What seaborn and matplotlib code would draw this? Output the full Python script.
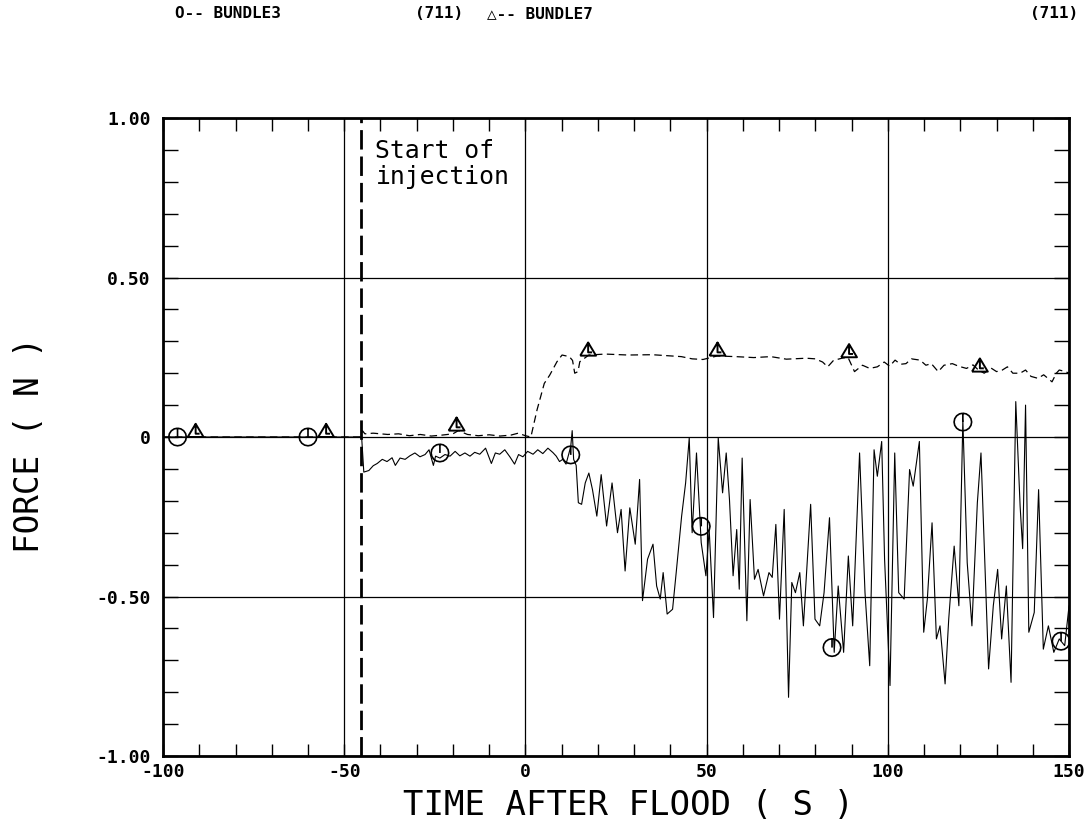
import matplotlib
matplotlib.use("Agg")
import matplotlib.pyplot as plt
from matplotlib.path import Path
from matplotlib.ticker import MultipleLocator, FixedLocator, FixedFormatter
import numpy as np
import pandas as pd
import seaborn as sns

# ---- BUNDLE3 force trace (solid) ----
b3_time = [-100, -45.6, -45.2, -44.6, -43.2, -42.0, -40.9, -39.5, -38.2, -36.8, -35.9,
           -34.6, -33.2, -31.9, -30.5, -29.1, -27.7, -26.6, -25.4, -24.8, -23.6, -22.2,
           -20.8, -19.4, -18.1, -16.7, -15.3, -14.0, -12.6, -11.0, -9.4, -8.3, -7.1,
           -5.7, -4.3, -3.0, -1.9, -0.7, 0.6, 2.1, 3.4, 4.8, 6.2, 7.6, 8.5, 9.4, 10.3,
           11.2, 12.5, 12.9, 13.3, 14.0,
           14.6, 15.5, 16.5, 17.5, 18.5, 19.7, 20.9, 22.4, 23.9, 25.4, 26.4, 27.5, 28.8,
           30.3, 31.5, 32.3, 33.7, 35.2, 36.2, 37.2, 38.0, 39.1, 40.6, 41.6, 43.1, 44.2,
           45.2, 46.0, 47.2, 48.5, 49.8, 50.7, 51.9, 53.2, 54.4, 55.4, 56.3, 57.3, 58.3,
           59.0, 59.8, 61.1, 62.0, 63.2, 64.2, 65.7, 67.2, 68.1, 69.1, 70.1, 71.4, 72.6,
           73.5, 74.5, 75.7, 76.7, 78.7, 79.9, 81.2, 82.4, 83.9, 85.2, 86.3, 87.8, 89.1,
           90.3, 92.2, 93.7, 95.0, 96.2, 97.1, 98.3, 99.1, 100.6, 101.9, 103.0, 104.5,
           106.0, 107.0, 108.7, 109.9, 110.9, 112.2, 113.4, 114.4, 115.8, 116.8, 118.3,
           119.6, 120.7, 121.9, 123.2, 124.7, 125.7, 126.6, 127.8, 129.1, 130.3, 131.4,
           132.7, 134.0, 135.3, 136.5, 137.2, 138.0, 138.9, 140.4, 141.6, 142.9, 144.3,
           145.8, 147.3, 148.8, 150.0]
b3_force = [0.0, 0.0, 0.0, -0.110, -0.105, -0.090, -0.083, -0.070, -0.077, -0.065, -0.089,
            -0.066, -0.070, -0.059, -0.050, -0.062, -0.055, -0.040, -0.089, -0.060, -0.066,
            -0.055, -0.060, -0.045, -0.059, -0.050, -0.060, -0.048, -0.054, -0.035, -0.083,
            -0.050, -0.054, -0.040, -0.062, -0.085, -0.055, -0.062, -0.045, -0.054, -0.040,
            -0.052, -0.035, -0.049, -0.060, -0.077, -0.070, -0.085, -0.030, 0.020, -0.070,
            -0.089,
            -0.206, -0.211, -0.144, -0.113, -0.165, -0.248, -0.118, -0.279, -0.144, -0.300,
            -0.227, -0.420, -0.222, -0.336, -0.133, -0.513, -0.383, -0.336, -0.467, -0.508,
            -0.425, -0.555, -0.540, -0.425, -0.248, -0.144, -0.003, -0.300, -0.050, -0.331,
            -0.435, -0.290, -0.566, -0.003, -0.175, -0.050, -0.196, -0.435, -0.290, -0.477,
            -0.066, -0.576, -0.196, -0.446, -0.415, -0.498, -0.425, -0.440, -0.274, -0.571,
            -0.227, -0.816, -0.456, -0.488, -0.425, -0.592, -0.211, -0.571, -0.592, -0.488,
            -0.253, -0.675, -0.467, -0.675, -0.373, -0.592, -0.050, -0.488, -0.717, -0.040,
            -0.123, -0.014, -0.383, -0.779, -0.050, -0.488, -0.508, -0.102, -0.154, -0.014,
            -0.612, -0.508, -0.269, -0.633, -0.592, -0.774, -0.571, -0.342, -0.529, 0.053,
            -0.394, -0.592, -0.206, -0.050, -0.342, -0.727, -0.529, -0.415, -0.633, -0.467,
            -0.769, 0.111, -0.217, -0.350, 0.100, -0.612, -0.550, -0.165, -0.665, -0.592,
            -0.675, -0.633, -0.654, -0.529]

# ---- BUNDLE7 force trace (dashed) ----
b7_time = [-100, -45.6, -45.0, -44.3, -42, -38, -35, -32, -29, -26, -23, -20, -18.5, -16,
           -13, -10, -7, -4, -2, 0, 1.5, 3.2, 5.2, 6.7, 8.7, 10.1, 12.1, 13.0, 13.6, 14.5,
           15.0, 17.5, 22, 28.3, 35, 43, 46, 49, 52.9, 58, 63, 67.7, 72, 77.5, 80, 82,
           83.4, 85, 87.3, 89, 90.8, 93, 95, 97.1, 99, 100.5, 102, 103.5, 105, 106.5,
           108.9, 110.5, 112, 113.9, 115.5, 117.8, 119.5, 121.7, 123.5, 125, 126.6, 128.5,
           130, 131.6, 133, 134.5, 136.5, 138, 139.5, 141.4, 143, 145.3, 146.5, 147.3,
           149, 150]
b7_force = [0.0, 0.0, 0.020, 0.010, 0.012, 0.008, 0.010, 0.004, 0.008, 0.003, 0.006, 0.010,
            0.020, 0.008, 0.004, 0.007, 0.003, 0.006, 0.012, 0.004, 0.0, 0.085, 0.168, 0.194,
            0.236, 0.257, 0.252, 0.240, 0.200, 0.205, 0.236, 0.257, 0.260, 0.257, 0.258,
            0.252, 0.245, 0.243, 0.254, 0.252, 0.249, 0.252, 0.244, 0.247, 0.245, 0.235,
            0.220, 0.240, 0.247, 0.250, 0.205, 0.225, 0.215, 0.220, 0.235, 0.222, 0.241,
            0.228, 0.230, 0.245, 0.241, 0.225, 0.230, 0.205, 0.225, 0.230, 0.222, 0.215,
            0.226, 0.210, 0.200, 0.216, 0.205, 0.210, 0.220, 0.200, 0.200, 0.210, 0.190,
            0.184, 0.195, 0.173, 0.200, 0.210, 0.205, 0.200]

# ---- symbol positions along each trace ----
b3_sym_time = [-96, -60, -23.6, 12.5, 48.5, 84.6, 120.7, 147.8]
b3_sym_force = [0.0, 0.0, -0.05, -0.056, -0.28, -0.66, 0.047, -0.64]
b7_sym_time = [-91, -55, -19, 17.3, 53, 89.3, 125.4]
b7_sym_force = [0.0, 0.0, 0.02, 0.255, 0.255, 0.25, 0.205]

injection_time = -45.5

x_tick_values = [-100, -50, 0, 50, 100, 150]
x_tick_labels = ["-100", "-50", "0", "50", "100", "150"]
y_tick_values = [-1.0, -0.5, 0.0, 0.5, 1.0]
y_tick_labels = ["-1.00", "-0.50", "0", "0.50", "1.00"]

sns.set_style("white")
plt.rcParams["font.family"] = ["DejaVu Sans Mono", "DejaVu Sans"]
plt.rcParams["text.color"] = "black"
plt.rcParams["axes.labelcolor"] = "black"
plt.rcParams["xtick.color"] = "black"
plt.rcParams["ytick.color"] = "black"

fig = plt.figure(figsize=(10.84, 8.24), dpi=100)
ax = fig.add_axes([0.1504, 0.0825, 0.8358, 0.7743])

ax.set_xlim(-100, 150)
ax.set_ylim(-1.0, 1.0)
ax.xaxis.set_major_locator(FixedLocator(x_tick_values))
ax.xaxis.set_major_formatter(FixedFormatter(x_tick_labels))
ax.yaxis.set_major_locator(FixedLocator(y_tick_values))
ax.yaxis.set_major_formatter(FixedFormatter(y_tick_labels))
ax.xaxis.set_minor_locator(MultipleLocator(10))
ax.yaxis.set_minor_locator(MultipleLocator(0.1))
ax.grid(True, which="major", color="black", linewidth=0.9)
ax.set_axisbelow(True)
ax.tick_params(which="both", direction="in", top=True, bottom=True, left=True, right=True,
               color="black", labelcolor="black", width=1.0)
ax.tick_params(axis="x", which="minor", length=9)
ax.tick_params(axis="y", which="minor", length=11)
ax.tick_params(axis="x", which="major", length=9, pad=5, labelsize=13)
ax.tick_params(axis="y", which="major", length=11, pad=9, labelsize=13)
for lab in ax.get_xticklabels() + ax.get_yticklabels():
    lab.set_fontweight("bold")
for sp in ax.spines.values():
    sp.set_color("black")
    sp.set_linewidth(2.0)

df3 = pd.DataFrame({"time": b3_time, "force": b3_force})
df7 = pd.DataFrame({"time": b7_time, "force": b7_force})
sns.lineplot(data=df3, x="time", y="force", ax=ax, color="black", linewidth=0.8,
             estimator=None, sort=False, zorder=3)
sns.lineplot(data=df7, x="time", y="force", ax=ax, color="black", linewidth=0.9,
             linestyle=(0, (6, 3.5)), estimator=None, sort=False, zorder=3)

# plotter-style symbols: circle with a stem, triangle with a stem
theta = np.linspace(np.pi / 2, np.pi / 2 + 2 * np.pi, 17)
circ_verts = [(np.cos(t), np.sin(t)) for t in theta] + [(0, 1), (0, 0)]
circ_codes = [Path.MOVETO] + [Path.LINETO] * 16 + [Path.MOVETO, Path.LINETO]
circle_mark = Path(circ_verts, circ_codes)
tri_verts = [(-0.6, 0), (0.6, 0), (0, 1), (-0.6, 0), (0, 1), (0, 0.25), (0.3, 0.25)]
tri_codes = [Path.MOVETO, Path.LINETO, Path.LINETO, Path.LINETO,
             Path.MOVETO, Path.LINETO, Path.LINETO]
tri_mark = Path(tri_verts, tri_codes)

sns.scatterplot(x=b3_sym_time, y=b3_sym_force, ax=ax, marker=circle_mark, s=160,
                facecolor="none", edgecolor="black", linewidth=1.2, zorder=4)
sns.scatterplot(x=b7_sym_time, y=b7_sym_force, ax=ax, marker=tri_mark, s=360,
                facecolor="none", edgecolor="black", linewidth=1.4, zorder=4)

# start of injection
ax.axvline(injection_time, color="black", linewidth=2.0, linestyle=(0, (7, 2.5)), zorder=3)
ax.text(-41.4, 0.935, "Start of\ninjection", fontsize=17.8, va="top", ha="left",
        linespacing=1.12, color="black")

ax.set_xlabel("TIME AFTER FLOOD ( S )", fontsize=24.5, va="center", color="black")
ax.xaxis.set_label_coords(0.514, -0.077)
ax.set_ylabel("FORCE ( N )", fontsize=23.5, va="center", color="black")
ax.yaxis.set_label_coords(-0.147, 0.487)

# header key
fig.text(175 / 1084, 1 - 14 / 824, "O-- BUNDLE3", fontsize=11.5, fontweight="bold",
         va="center", ha="left", color="black")
fig.text(415 / 1084, 1 - 14 / 824, "(711)", fontsize=11.5, fontweight="bold",
         va="center", ha="left", color="black")
fig.text(487 / 1084, 1 - 14 / 824, "\u25b3-- BUNDLE7", fontsize=11.5, fontweight="bold",
         va="center", ha="left", color="black")
fig.text(1078 / 1084, 1 - 14 / 824, "(711)", fontsize=11.5, fontweight="bold",
         va="center", ha="right", color="black")

fig.savefig("out.png", dpi=100, facecolor="white")
